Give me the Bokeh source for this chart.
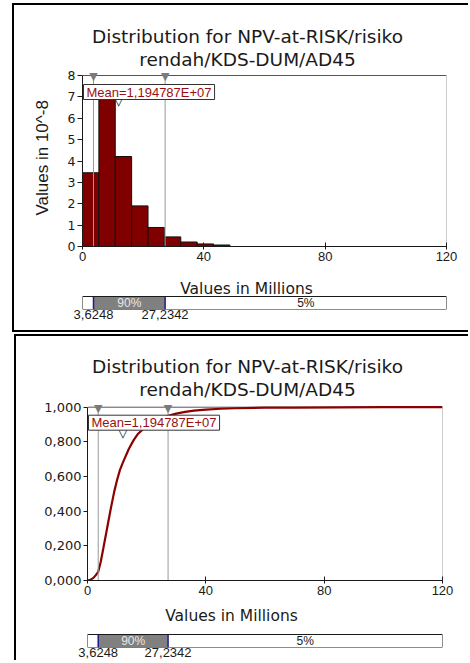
from bokeh.plotting import figure
from bokeh.models import (Label, FixedTicker, Range1d, ColumnDataSource, Title,
                          NumeralTickFormatter)
from bokeh.layouts import column
from bokeh.embed import file_html
from bokeh.resources import INLINE

# ---------------- data ----------------
TITLE_LINES = ["Distribution for NPV-at-RISK/risiko", "rendah/KDS-DUM/AD45"]
X_LABEL = "Values in Millions"
HIST_Y_LABEL = "Values in 10^-8"

BIN_EDGES = [0.0, 5.4, 10.8, 16.2, 21.6, 27.0, 32.4, 37.8, 43.2, 48.6]   # millions
DENSITY = [3.45, 7.15, 4.21, 1.90, 0.89, 0.45, 0.21, 0.12, 0.07]         # x 10^-8

CDF_X = [0, 1, 2, 3, 3.6248, 4.5, 5.4, 6.5, 7.7, 9, 10, 11, 12.2, 14, 15.6, 17,
         18.9, 21, 23, 25, 27.2342, 30, 33, 36, 40, 45, 50, 60, 70, 85, 100, 120]
CDF_Y = [0, 0.004, 0.015, 0.035, 0.05, 0.11, 0.19, 0.29, 0.40, 0.51, 0.58, 0.64,
         0.69, 0.76, 0.81, 0.845, 0.875, 0.90, 0.92, 0.935, 0.95, 0.963, 0.973,
         0.98, 0.986, 0.991, 0.994, 0.997, 0.998, 0.999, 1.0, 1.0]

P5, P95 = 3.6248, 27.2342
P5_TEXT, P95_TEXT = "3,6248", "27,2342"
MEAN = 11.94787
MEAN_TEXT = "Mean=1,194787E+07"
MID_PCT, TAIL_PCT = "90%", "5%"

X_MIN, X_MAX = 0, 120
X_TICKS = [0, 40, 80, 120]
HIST_Y_MAX = 8
HIST_Y_TICKS = [0, 1, 2, 3, 4, 5, 6, 7, 8]
CDF_Y_MAX = 1.0
CDF_Y_TICKS = [0.0, 0.2, 0.4, 0.6, 0.8, 1.0]
CDF_Y_TICK_TEXT = ["0,000", "0,200", "0,400", "0,600", "0,800", "1,000"]

# ---------------- styles / layout (pixels) ----------------
DARK_RED = "#800000"
CURVE_RED = "#8b0000"
TEXT_RED = "#9a1010"
INK = "#1a1a1a"
WIDE = "DejaVu Sans"
ARIAL = "Liberation Sans"
STRIP_BOX_H = 13


def make_fig(w, h, l, r, t, b, xr, yr, y_axis=True):
    kw = {} if y_axis else dict(y_axis_location=None)
    p = figure(width=w, height=h, x_range=xr, y_range=yr, output_backend="svg",
               toolbar_location=None, tools="", min_border_left=l,
               min_border_right=r, min_border_top=t, min_border_bottom=b, **kw)
    p.xgrid.visible = False
    p.ygrid.visible = False
    p.outline_line_color = None
    p.background_fill_color = "white"
    p.border_fill_color = "white"
    return p


def txt(p, x, y, text, size, font=WIDE, color=INK, align="center",
        baseline="alphabetic", xu="screen", yu="screen", **kw):
    lab = Label(x=x, y=y, x_units=xu, y_units=yu, text=text, text_font=font,
                text_font_size=f"{size}px", text_color=color, text_align=align,
                text_baseline=baseline, **kw)
    p.add_layout(lab)
    return lab


def style_axes(p, y_max, y_ticks, y_font_size, y_tick_out, y_standoff):
    xa = p.xaxis[0]
    xa.ticker = FixedTicker(ticks=X_TICKS)
    xa.major_tick_in = 4
    xa.major_tick_out = 3
    xa.minor_tick_line_color = None
    xa.axis_line_color = INK
    xa.major_tick_line_color = INK
    xa.major_label_text_font = ARIAL
    xa.major_label_text_font_size = "13px"
    xa.major_label_text_color = INK
    xa.major_label_standoff = 2
    ya = p.yaxis[0]
    ya.bounds = (0, y_max)
    ya.ticker = FixedTicker(ticks=y_ticks)
    ya.major_tick_in = 0
    ya.major_tick_out = y_tick_out
    ya.minor_tick_line_color = None
    ya.axis_line_color = INK
    ya.major_tick_line_color = INK
    ya.major_label_text_font = WIDE
    ya.major_label_text_font_size = f"{y_font_size}px"
    ya.major_label_text_color = INK
    ya.major_label_standoff = y_standoff
    # top and right edges of the plotting area
    p.segment(x0=[X_MIN], y0=[y_max], x1=[X_MAX], y1=[y_max],
              line_color="#555555", line_width=1)
    p.segment(x0=[X_MAX], y0=[0], x1=[X_MAX], y1=[y_max],
              line_color="#9a9a9a", line_width=1)
    return xa, ya


def markers(p, y_max, mean_y):
    p.segment(x0=[P5, P95], y0=[0, 0], x1=[P5, P95], y1=[y_max, y_max],
              line_color="#9a9a9a", line_width=1)
    for v in (P5, P95):
        txt(p, v, y_max, "\u25BC", 11, font=WIDE, color="#7a7a7a",
            baseline="alphabetic", xu="data", yu="data", y_offset=-1)
    txt(p, MEAN, mean_y, "\u25BD", 14, font=WIDE, color=INK, baseline="middle",
        xu="data")


def mean_box(p, x, y):
    txt(p, x, y, MEAN_TEXT, 13, font=ARIAL, color=TEXT_RED, align="left",
        baseline="middle", background_fill_color="white",
        border_line_color="#333333", border_line_width=1, padding=(3, 0))


def titles(p, x, y1, y2):
    txt(p, x, y1, TITLE_LINES[0], 18.5)
    txt(p, x, y2, TITLE_LINES[1], 18.5)


def strip(w, h, l, r, frame_h, b, xr, label_x, label_y):
    s = make_fig(w, h, l, r, 0, b, xr, Range1d(0, frame_h / STRIP_BOX_H),
                 y_axis=False)
    src = ColumnDataSource(dict(left=[X_MIN, P5, P95], right=[P5, P95, X_MAX],
                                color=["white", "#808080", "white"]))
    s.quad(left="left", right="right", bottom=0, top=1, fill_color="color",
           line_color=None, source=src)
    s.segment(x0=[P5, P95], y0=[0, 0], x1=[P5, P95], y1=[1, 1],
              line_color="#1c1c8c", line_width=1.5)
    s.quad(left=[X_MIN], right=[X_MAX], bottom=[0], top=[1], fill_color=None,
           line_color=INK, line_width=1)
    txt(s, (P5 + P95) / 2, 0.5, MID_PCT, 12, font=ARIAL, color="#e8e8e8",
        baseline="middle", xu="data", yu="data")
    txt(s, (P95 + X_MAX) / 2, 0.5, TAIL_PCT, 12, font=ARIAL, color=INK,
        baseline="middle", xu="data", yu="data")
    txt(s, label_x, label_y, X_LABEL, 15.5)
    xa = s.xaxis[0]
    xa.ticker = FixedTicker(ticks=[P5, P95])
    xa.major_label_overrides = {P5: P5_TEXT, P95: P95_TEXT}
    xa.axis_line_color = None
    xa.major_tick_line_color = None
    xa.minor_tick_line_color = None
    xa.major_tick_in = 0
    xa.major_tick_out = 0
    xa.major_label_standoff = 0
    xa.major_label_text_font = ARIAL
    xa.major_label_text_font_size = "13px"
    xa.major_label_text_color = INK
    return s


# ---------------- top panel: histogram ----------------
# frame spans image y 5..246, value 8 sits at y 75
xr1 = Range1d(X_MIN, X_MAX)
FRAME1_H, PLOT1_H = 241, 171
p1 = make_fig(454, 263, 68, 22, 0, 22, xr1,
              Range1d(0, HIST_Y_MAX * FRAME1_H / PLOT1_H))
style_axes(p1, HIST_Y_MAX, HIST_Y_TICKS, 12.5, 5, 2)
p1.quad(left=BIN_EDGES[:-1], right=BIN_EDGES[1:], bottom=0, top=DENSITY,
        fill_color=DARK_RED, line_color="#111111", line_width=1)
markers(p1, HIST_Y_MAX, 146.5)
mean_box(p1, 1, 154.5)
titles(p1, 165, 210, 186.7)
p1.add_layout(Title(text=HIST_Y_LABEL, align="left", offset=31,
                    vertical_align="bottom", standoff=26, text_font=ARIAL,
                    text_font_size="17px", text_font_style="normal",
                    text_color=INK), "left")
s1 = strip(454, 62, 68, 22, 41, 21, xr1, 164, 20.7)

panel1 = column(p1, s1, margin=(3, 0, 0, 12),
                styles={"border-left": "2px solid black",
                        "border-top": "2px solid black",
                        "border-bottom": "2px solid black"})

# ---------------- bottom panel: cumulative curve ----------------
# frame spans image y 336..580, value 1.0 sits at y 406.7
xr2 = Range1d(X_MIN, X_MAX)
FRAME2_H, PLOT2_H = 244, 173.3
p2 = make_fig(452, 266, 71, 26, 0, 22, xr2,
              Range1d(0, CDF_Y_MAX * FRAME2_H / PLOT2_H))
xa2, ya2 = style_axes(p2, CDF_Y_MAX, CDF_Y_TICKS, 13, 4, 2)
ya2.formatter = NumeralTickFormatter(format="0.000", language="de")
ya2.major_label_overrides = dict(zip(CDF_Y_TICKS, CDF_Y_TICK_TEXT))
p2.line(CDF_X, CDF_Y, line_color=CURVE_RED, line_width=2.2)
markers(p2, CDF_Y_MAX, 149)
mean_box(p2, 1, 157.8)
titles(p2, 160, 214, 190.7)
s2 = strip(452, 58, 71, 26, 45, 13, xr2, 144, 32)

panel2 = column(p2, s2, margin=(2, 0, 0, 14),
                styles={"border-left": "2px solid black",
                        "border-top": "2px solid black"})

root = column(panel1, panel2, styles={"vertical-align": "top"})

open("out.html", "w").write(file_html(root, INLINE))
